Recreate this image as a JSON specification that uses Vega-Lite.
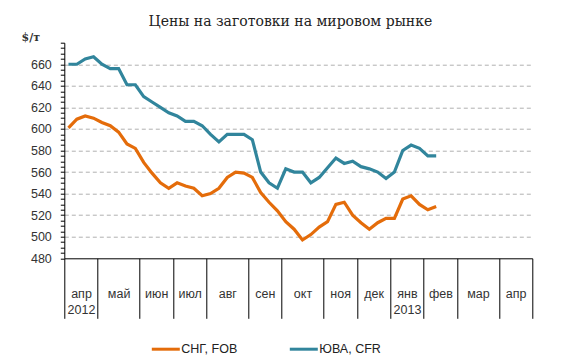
{
  "$schema": "https://vega.github.io/schema/vega-lite/v6.json",
  "width": 468,
  "height": 215.6,
  "autosize": {"type": "none"},
  "padding": {"left": 64.3, "top": 42.7, "right": 45.7, "bottom": 104.7},
  "background": "white",
  "config": {"view": {"stroke": null}},
  "title": {"text": "Цены на заготовки на мировом рынке", "font": "DejaVu Serif", "fontSize": 14, "fontWeight": "normal", "color": "#222", "anchor": "middle", "frame": "group", "dx": -8, "offset": 3},
  "data": {"values": [
    {"s": "СНГ, FOB", "w": 1, "p": 601}, {"s": "СНГ, FOB", "w": 2, "p": 609}, {"s": "СНГ, FOB", "w": 3, "p": 612}, {"s": "СНГ, FOB", "w": 4, "p": 610},
    {"s": "СНГ, FOB", "w": 5, "p": 606}, {"s": "СНГ, FOB", "w": 6, "p": 603}, {"s": "СНГ, FOB", "w": 7, "p": 597}, {"s": "СНГ, FOB", "w": 8, "p": 586},
    {"s": "СНГ, FOB", "w": 9, "p": 582}, {"s": "СНГ, FOB", "w": 10, "p": 569}, {"s": "СНГ, FOB", "w": 11, "p": 559}, {"s": "СНГ, FOB", "w": 12, "p": 550},
    {"s": "СНГ, FOB", "w": 13, "p": 545}, {"s": "СНГ, FOB", "w": 14, "p": 550}, {"s": "СНГ, FOB", "w": 15, "p": 547}, {"s": "СНГ, FOB", "w": 16, "p": 545},
    {"s": "СНГ, FOB", "w": 17, "p": 538}, {"s": "СНГ, FOB", "w": 18, "p": 540}, {"s": "СНГ, FOB", "w": 19, "p": 545}, {"s": "СНГ, FOB", "w": 20, "p": 555},
    {"s": "СНГ, FOB", "w": 21, "p": 560}, {"s": "СНГ, FOB", "w": 22, "p": 559}, {"s": "СНГ, FOB", "w": 23, "p": 555}, {"s": "СНГ, FOB", "w": 24, "p": 541},
    {"s": "СНГ, FOB", "w": 25, "p": 532}, {"s": "СНГ, FOB", "w": 26, "p": 524}, {"s": "СНГ, FOB", "w": 27, "p": 514}, {"s": "СНГ, FOB", "w": 28, "p": 507},
    {"s": "СНГ, FOB", "w": 29, "p": 497}, {"s": "СНГ, FOB", "w": 30, "p": 502}, {"s": "СНГ, FOB", "w": 31, "p": 509}, {"s": "СНГ, FOB", "w": 32, "p": 514},
    {"s": "СНГ, FOB", "w": 33, "p": 530}, {"s": "СНГ, FOB", "w": 34, "p": 532}, {"s": "СНГ, FOB", "w": 35, "p": 520}, {"s": "СНГ, FOB", "w": 36, "p": 513},
    {"s": "СНГ, FOB", "w": 37, "p": 507}, {"s": "СНГ, FOB", "w": 38, "p": 513}, {"s": "СНГ, FOB", "w": 39, "p": 517}, {"s": "СНГ, FOB", "w": 40, "p": 517},
    {"s": "СНГ, FOB", "w": 41, "p": 535}, {"s": "СНГ, FOB", "w": 42, "p": 538}, {"s": "СНГ, FOB", "w": 43, "p": 530}, {"s": "СНГ, FOB", "w": 44, "p": 525},
    {"s": "СНГ, FOB", "w": 45, "p": 528},
    {"s": "ЮВА, CFR", "w": 1, "p": 660}, {"s": "ЮВА, CFR", "w": 2, "p": 660}, {"s": "ЮВА, CFR", "w": 3, "p": 665}, {"s": "ЮВА, CFR", "w": 4, "p": 667},
    {"s": "ЮВА, CFR", "w": 5, "p": 660}, {"s": "ЮВА, CFR", "w": 6, "p": 656}, {"s": "ЮВА, CFR", "w": 7, "p": 656}, {"s": "ЮВА, CFR", "w": 8, "p": 641},
    {"s": "ЮВА, CFR", "w": 9, "p": 641}, {"s": "ЮВА, CFR", "w": 10, "p": 630}, {"s": "ЮВА, CFR", "w": 11, "p": 625}, {"s": "ЮВА, CFR", "w": 12, "p": 620},
    {"s": "ЮВА, CFR", "w": 13, "p": 615}, {"s": "ЮВА, CFR", "w": 14, "p": 612}, {"s": "ЮВА, CFR", "w": 15, "p": 607}, {"s": "ЮВА, CFR", "w": 16, "p": 607},
    {"s": "ЮВА, CFR", "w": 17, "p": 603}, {"s": "ЮВА, CFR", "w": 18, "p": 595}, {"s": "ЮВА, CFR", "w": 19, "p": 588}, {"s": "ЮВА, CFR", "w": 20, "p": 595},
    {"s": "ЮВА, CFR", "w": 21, "p": 595}, {"s": "ЮВА, CFR", "w": 22, "p": 595}, {"s": "ЮВА, CFR", "w": 23, "p": 590}, {"s": "ЮВА, CFR", "w": 24, "p": 560},
    {"s": "ЮВА, CFR", "w": 25, "p": 550}, {"s": "ЮВА, CFR", "w": 26, "p": 545}, {"s": "ЮВА, CFR", "w": 27, "p": 563}, {"s": "ЮВА, CFR", "w": 28, "p": 560},
    {"s": "ЮВА, CFR", "w": 29, "p": 560}, {"s": "ЮВА, CFR", "w": 30, "p": 550}, {"s": "ЮВА, CFR", "w": 31, "p": 555}, {"s": "ЮВА, CFR", "w": 32, "p": 564},
    {"s": "ЮВА, CFR", "w": 33, "p": 573}, {"s": "ЮВА, CFR", "w": 34, "p": 568}, {"s": "ЮВА, CFR", "w": 35, "p": 570}, {"s": "ЮВА, CFR", "w": 36, "p": 565},
    {"s": "ЮВА, CFR", "w": 37, "p": 563}, {"s": "ЮВА, CFR", "w": 38, "p": 560}, {"s": "ЮВА, CFR", "w": 39, "p": 554}, {"s": "ЮВА, CFR", "w": 40, "p": 560},
    {"s": "ЮВА, CFR", "w": 41, "p": 580}, {"s": "ЮВА, CFR", "w": 42, "p": 585}, {"s": "ЮВА, CFR", "w": 43, "p": 582}, {"s": "ЮВА, CFR", "w": 44, "p": 575},
    {"s": "ЮВА, CFR", "w": 45, "p": 575}
  ]},
  "encoding": {
    "y": {
      "field": "p", "type": "quantitative",
      "scale": {"domain": [480, 680], "nice": false, "zero": false},
      "axis": {
        "values": [480,485,490,495,500,505,510,515,520,525,530,535,540,545,550,555,560,565,570,575,580,585,590,595,600,605,610,615,620,625,630,635,640,645,650,655,660,665,670,675,680],
        "labelExpr": "datum.value % 20 === 0 && datum.value < 680 ? datum.label : ''",
        "labelOverlap": false,
        "tickSize": 4, "tickColor": "#000", "domainColor": "#000",
        "labelPadding": 9, "labelFont": "Liberation Sans", "labelFontSize": 12.5, "labelColor": "#333",
        "grid": true, "gridColor": "#b0b0b0", "gridDash": [4, 3],
        "gridOpacity": {"condition": {"test": "datum.value % 20 === 0 && datum.value > 480 && datum.value < 680", "value": 1}, "value": 0},
        "title": "$/т", "titleAngle": 0, "titleX": -34, "titleY": -5, "titleAlign": "center", "titleBaseline": "middle",
        "titleFont": "DejaVu Serif", "titleFontSize": 11, "titleFontWeight": "bold", "titleColor": "#333"
      }
    },
    "color": {
      "field": "s", "type": "nominal",
      "scale": {"domain": ["СНГ, FOB", "ЮВА, CFR"], "range": ["#E46C0A", "#31859C"]},
      "legend": {
        "orient": "none", "legendX": 86, "legendY": 291, "direction": "horizontal", "title": null,
        "symbolType": "stroke", "symbolSize": 784, "symbolStrokeWidth": 3,
        "labelFont": "Liberation Sans", "labelFontSize": 12.5, "labelColor": "#222", "labelOffset": 0,
        "columnPadding": 46
      }
    }
  },
  "layer": [
    {
      "transform": [{"filter": "datum.s === 'СНГ, FOB'"}],
      "mark": {"type": "line", "strokeWidth": 3.2},
      "encoding": {
        "x": {
          "field": "w", "type": "quantitative",
          "scale": {"domain": [0.5, 56.5], "nice": false, "zero": false},
          "axis": {
            "values": [0.5, 4.5, 9.5, 13.5, 17.5, 22.5, 26.5, 31.5, 35.5, 39.5, 43.5, 47.5, 52.5, 56.5],
            "labels": false, "tickSize": 60, "tickColor": "#000", "domainColor": "#000", "grid": false, "title": null
          }
        }
      }
    },
    {
      "transform": [{"filter": "datum.s === 'ЮВА, CFR'"}],
      "mark": {"type": "line", "strokeWidth": 3.2},
      "encoding": {
        "x": {
          "field": "w", "type": "quantitative",
          "axis": {
            "orient": "bottom",
            "values": [2.5, 7, 11.5, 15.5, 20, 24.5, 29, 33.5, 37.5, 41.5, 45.5, 50, 54.5],
            "labelExpr": "[['апр','2012'],'май','июн','июл','авг','сен','окт','ноя','дек',['янв','2013'],'фев','мар','апр'][indexof([2.5,7,11.5,15.5,20,24.5,29,33.5,37.5,41.5,45.5,50,54.5], datum.value)]",
            "labelOverlap": false, "labelFlush": false, "labelBound": false,
            "ticks": false, "domain": false, "grid": false, "title": null,
            "labelPadding": 29, "labelBaseline": "top", "labelLineHeight": 16,
            "labelFont": "Liberation Sans", "labelFontSize": 12.5, "labelColor": "#333"
          }
        }
      }
    }
  ],
  "resolve": {"axis": {"x": "independent"}}
}
